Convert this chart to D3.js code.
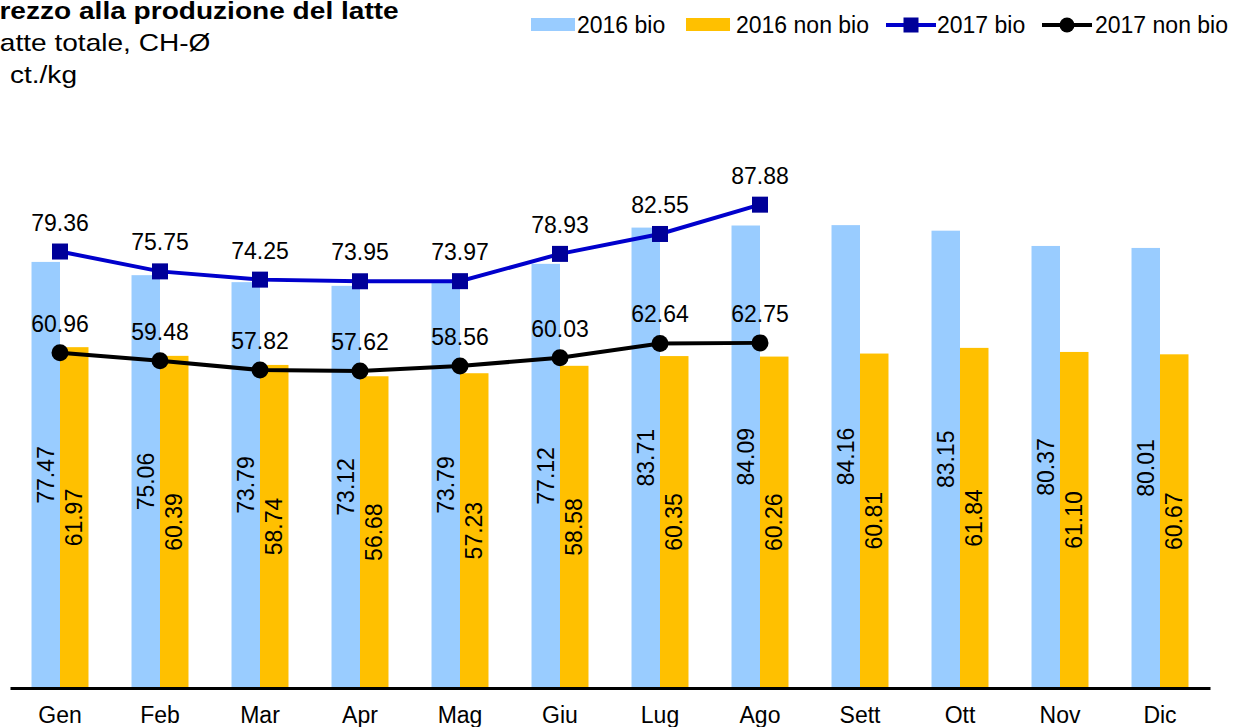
<!DOCTYPE html>
<html>
<head>
<meta charset="utf-8">
<script src="https://cdn.jsdelivr.net/npm/d3@7"></script>
<style>
  html, body { margin: 0; padding: 0; background: #fff; }
  svg { display: block; font-family: "Liberation Sans", Arial, sans-serif; }
</style>
</head>
<body>
<svg id="chart" width="1234" height="727"></svg>
<script>
// Monthly producer milk prices (ct./kg)
const months = ["Gen", "Feb", "Mar", "Apr", "Mag", "Giu", "Lug", "Ago", "Sett", "Ott", "Nov", "Dic"];
const bio2016 = [77.47, 75.06, 73.79, 73.12, 73.79, 77.12, 83.71, 84.09, 84.16, 83.15, 80.37, 80.01];
const nonBio2016 = [61.97, 60.39, 58.74, 56.68, 57.23, 58.58, 60.35, 60.26, 60.81, 61.84, 61.10, 60.67];
const bio2017 = [79.36, 75.75, 74.25, 73.95, 73.97, 78.93, 82.55, 87.88];
const nonBio2017 = [60.96, 59.48, 57.82, 57.62, 58.56, 60.03, 62.64, 62.75];

const seriesNames = ["2016 bio", "2016 non bio", "2017 bio", "2017 non bio"];
const colors = {
  bio16: "#99CCFF",
  nonBio16: "#FFC000",
  bio17Line: "#0000CC",
  bio17Marker: "#000099",
  nonBio17: "#000000"
};

const svg = d3.select("#chart");
const fontSize = 23;

const x = d3.scaleBand().domain(months).range([10, 1210]).padding(0);
const xSub = d3.scaleBand().domain(["bio", "nonbio"]).range([0, x.bandwidth()])
  .paddingInner(0).paddingOuter(0.755);
const y = d3.scaleLinear().domain([0, 100]).range([688, 138]);

// Bars for 2016
const barData = months.map((m, i) => [
  { m, key: "bio", v: bio2016[i], color: colors.bio16 },
  { m, key: "nonbio", v: nonBio2016[i], color: colors.nonBio16 }
]).flat();

const bars = svg.append("g");
bars.selectAll("rect").data(barData).join("rect")
  .attr("x", d => x(d.m) + xSub(d.key))
  .attr("y", d => y(d.v))
  .attr("width", xSub.bandwidth())
  .attr("height", d => y(0) - y(d.v))
  .attr("fill", d => d.color);

// Value labels inside the bars, rotated
bars.selectAll("text").data(barData).join("text")
  .attr("transform", d => {
    const cx = x(d.m) + xSub(d.key) + xSub.bandwidth() / 2;
    const cy = (y(d.v) + y(0)) / 2;
    return `translate(${cx},${cy}) rotate(-90)`;
  })
  .attr("text-anchor", "middle")
  .attr("dy", "0.35em")
  .attr("font-size", fontSize)
  .attr("fill", "#000")
  .text(d => d.v.toFixed(2));

// X axis
const xAxis = svg.append("g")
  .attr("transform", `translate(0,${y(0)})`)
  .call(d3.axisBottom(x).tickSize(0).tickPadding(19));
xAxis.select(".domain").attr("stroke", "#000").attr("stroke-width", 3);
xAxis.selectAll("text").attr("font-size", fontSize).attr("fill", "#000")
  .attr("font-family", "'Liberation Sans', Arial, sans-serif");

const cx = (i) => x(months[i]) + x.bandwidth() / 2;

// 2017 lines
const line = d3.line().x((d, i) => cx(i)).y(d => y(d));

svg.append("path").datum(bio2017)
  .attr("d", line).attr("fill", "none")
  .attr("stroke", colors.bio17Line).attr("stroke-width", 4);
svg.append("path").datum(nonBio2017)
  .attr("d", line).attr("fill", "none")
  .attr("stroke", colors.nonBio17).attr("stroke-width", 4);

const sq = 16;
svg.append("g").selectAll("rect").data(bio2017).join("rect")
  .attr("x", (d, i) => cx(i) - sq / 2)
  .attr("y", d => y(d) - sq / 2)
  .attr("width", sq).attr("height", sq)
  .attr("fill", colors.bio17Marker);

svg.append("g").selectAll("circle").data(nonBio2017).join("circle")
  .attr("cx", (d, i) => cx(i))
  .attr("cy", d => y(d))
  .attr("r", 8.5)
  .attr("fill", colors.nonBio17);

// Point labels above the 2017 markers
[bio2017, nonBio2017].forEach(series => {
  svg.append("g").selectAll("text").data(series).join("text")
    .attr("x", (d, i) => cx(i))
    .attr("y", d => y(d) - 21)
    .attr("text-anchor", "middle")
    .attr("font-size", fontSize)
    .attr("fill", "#000")
    .text(d => d.toFixed(2));
});

// Title block
const title = svg.append("g").attr("transform", "scale(1.17,1)");
title.append("text").attr("x", -16.5).attr("y", 19)
  .attr("font-size", 24).attr("font-weight", "bold").attr("fill", "#000")
  .text("Prezzo alla produzione del latte");
title.append("text").attr("x", -13.5).attr("y", 51)
  .attr("font-size", 24).attr("fill", "#000")
  .text("Latte totale, CH-Ø");
title.append("text").attr("x", 8.5).attr("y", 83)
  .attr("font-size", 24).attr("fill", "#000")
  .text("ct./kg");

// Legend
const legend = svg.append("g");
const legendItems = [
  { name: seriesNames[0], type: "rect", color: colors.bio16, x0: 531, tx: 577 },
  { name: seriesNames[1], type: "rect", color: colors.nonBio16, x0: 686, tx: 736 },
  { name: seriesNames[2], type: "square", color: colors.bio17Line, marker: colors.bio17Marker, x0: 886, tx: 937 },
  { name: seriesNames[3], type: "circle", color: colors.nonBio17, marker: colors.nonBio17, x0: 1042, tx: 1095 }
];
const ly = 25;
legendItems.forEach(it => {
  if (it.type === "rect") {
    legend.append("rect").attr("x", it.x0).attr("y", ly - 7)
      .attr("width", 44).attr("height", 13).attr("fill", it.color);
  } else {
    legend.append("line").attr("x1", it.x0).attr("x2", it.x0 + 50)
      .attr("y1", ly).attr("y2", ly)
      .attr("stroke", it.color).attr("stroke-width", 4);
    if (it.type === "square") {
      legend.append("rect").attr("x", it.x0 + 25 - 7.5).attr("y", ly - 7.5)
        .attr("width", 15).attr("height", 15).attr("fill", it.marker);
    } else {
      legend.append("circle").attr("cx", it.x0 + 25).attr("cy", ly)
        .attr("r", 7.5).attr("fill", it.marker);
    }
  }
  legend.append("text").attr("x", it.tx).attr("y", ly + 8)
    .attr("font-size", fontSize).attr("fill", "#000").text(it.name);
});
</script>
</body>
</html>
